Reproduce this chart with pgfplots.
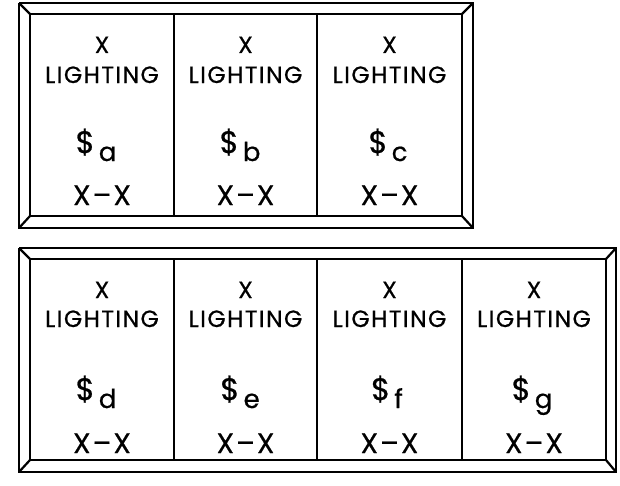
\documentclass[border=0pt]{standalone}
\usepackage{pgfplots}
\pgfplotsset{compat=1.18}
\usepackage{fontspec}
\setmainfont{Poppins}[FakeBold=0.6]
\newfontfamily\hdfont{Poppins}[FakeBold=0.6,LetterSpace=6]
\newcommand{\dol}[1]{{\fontsize{31bp}{33bp}\selectfont\$}\kern4bp\raisebox{-8bp}{\fontsize{26bp}{28bp}\selectfont #1}}
\newcommand{\xx}{X\kern2bp–\kern2bp X}
\tikzset{hd/.style={font=\hdfont\fontsize{23.5bp}{25bp}\selectfont,anchor=base,inner sep=0pt},
  lo/.style={font=\fontsize{28bp}{30bp}\selectfont,anchor=base,inner sep=0pt}}
\pgfplotsset{fr/.style={black,line width=2.2bp,mark=none,line join=miter}}
\begin{document}
\begin{tikzpicture}
\begin{axis}[width=620bp,height=485bp,scale only axis,hide axis,
  xmin=0,xmax=620,ymin=0,ymax=485,y dir=reverse,clip=false]
\path (axis cs:0,0) rectangle (axis cs:620,485);
% top panel
\addplot[fr] coordinates {(19,3) (473,3) (473,228) (19,228) (19,3)};
\addplot[fr] coordinates {(30,14) (462,14) (462,216) (30,216) (30,14)};
\addplot[fr] coordinates {(19,3) (30,14)};
\addplot[fr] coordinates {(473,3) (462,14)};
\addplot[fr] coordinates {(19,228) (30,216)};
\addplot[fr] coordinates {(473,228) (462,216)};
\addplot[fr] coordinates {(174,14) (174,216)};
\addplot[fr] coordinates {(317,14) (317,216)};
% bottom panel
\addplot[fr] coordinates {(19,248) (616,248) (616,472) (19,472) (19,248)};
\addplot[fr] coordinates {(30,259) (606,259) (606,460) (30,460) (30,259)};
\addplot[fr] coordinates {(19,248) (30,259)};
\addplot[fr] coordinates {(616,248) (606,259)};
\addplot[fr] coordinates {(19,472) (30,460)};
\addplot[fr] coordinates {(616,472) (606,460)};
\addplot[fr] coordinates {(174,259) (174,460)};
\addplot[fr] coordinates {(317,259) (317,460)};
\addplot[fr] coordinates {(462,259) (462,460)};
% top texts
\node[hd] at (axis cs:102,53) {X};
\node[hd] at (axis cs:102,83) {LIGHTING};
\node[lo] at (axis cs:96,153) {\dol{a}};
\node[lo] at (axis cs:102,205) {\xx};
\node[hd] at (axis cs:245.5,53) {X};
\node[hd] at (axis cs:245.5,83) {LIGHTING};
\node[lo] at (axis cs:240,153) {\dol{b}};
\node[lo] at (axis cs:245.5,205) {\xx};
\node[hd] at (axis cs:389.5,53) {X};
\node[hd] at (axis cs:389.5,83) {LIGHTING};
\node[lo] at (axis cs:388,153) {\dol{c}};
\node[lo] at (axis cs:389.5,205) {\xx};
% bottom texts
\node[hd] at (axis cs:102,298) {X};
\node[hd] at (axis cs:102,327) {LIGHTING};
\node[lo] at (axis cs:96,400) {\dol{d}};
\node[lo] at (axis cs:102,453) {\xx};
\node[hd] at (axis cs:245.5,298) {X};
\node[hd] at (axis cs:245.5,327) {LIGHTING};
\node[lo] at (axis cs:240,400) {\dol{e}};
\node[lo] at (axis cs:245.5,453) {\xx};
\node[hd] at (axis cs:389.5,298) {X};
\node[hd] at (axis cs:389.5,327) {LIGHTING};
\node[lo] at (axis cs:387,400) {\dol{f}};
\node[lo] at (axis cs:389.5,453) {\xx};
\node[hd] at (axis cs:534,298) {X};
\node[hd] at (axis cs:534,327) {LIGHTING};
\node[lo] at (axis cs:532,400) {\dol{g}};
\node[lo] at (axis cs:534,453) {\xx};
\end{axis}
\end{tikzpicture}
\end{document}
